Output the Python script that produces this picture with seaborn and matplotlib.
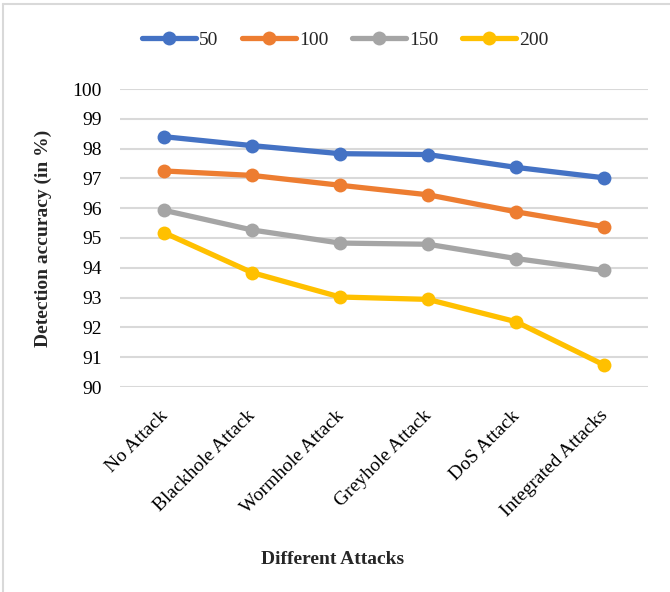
import matplotlib
matplotlib.use("Agg")
import matplotlib.pyplot as plt
import seaborn as sns
import pandas as pd
from matplotlib.lines import Line2D
from matplotlib.transforms import ScaledTranslation

# Detection accuracy (%) per attack scenario, one series per node count
attacks = ["No Attack", "Blackhole Attack", "Wormhole Attack",
           "Greyhole Attack", "DoS Attack", "Integrated Attacks"]
nodes = ["50", "100", "150", "200"]
acc_50 = [98.40, 98.10, 97.83, 97.80, 97.37, 97.02]
acc_100 = [97.25, 97.10, 96.77, 96.45, 95.88, 95.38]
acc_150 = [95.93, 95.27, 94.83, 94.79, 94.31, 93.91]
acc_200 = [95.18, 93.84, 93.02, 92.94, 92.19, 90.74]
y_ticks = [90, 91, 92, 93, 94, 95, 96, 97, 98, 99, 100]

colors = ["#4472C4", "#ED7D31", "#A5A5A5", "#FFC000"]
SERIF = ["Liberation Serif", "DejaVu Serif"]

rows = []
for name, vals in zip(nodes, [acc_50, acc_100, acc_150, acc_200]):
    for i, v in enumerate(vals):
        rows.append({"pos": i, "attack": attacks[i], "nodes": name, "acc": v})
df = pd.DataFrame(rows)

sns.set_theme(style="white")
plt.rcParams["font.family"] = SERIF

W, H = 670, 592
fig = plt.figure(figsize=(W / 100, H / 100), dpi=100)
ax = fig.add_axes([120 / W, 1 - 387 / H, (648 - 120) / W, (387 - 89) / H])

sns.lineplot(data=df, x="pos", y="acc", hue="nodes", hue_order=nodes,
             palette=colors, marker="o", markersize=10, markeredgewidth=0,
             linewidth=3.8, ax=ax, legend=False, zorder=3)

ax.set_xlim(-0.5, len(attacks) - 0.5)
ax.set_ylim(90, 100)
ax.set_yticks(y_ticks)
ax.set_yticklabels([str(t) for t in y_ticks], fontsize=14, color="#000000",
                   fontfamily=SERIF)
ax.set_xticks(range(len(attacks)))
ax.set_xticklabels(attacks, rotation=45, ha="right", va="top",
                   rotation_mode="anchor", fontsize=14, color="#000000",
                   fontfamily=SERIF)
ax.tick_params(axis="y", length=0, pad=13)
ax.tick_params(axis="x", length=0, pad=14.5)
shift = ScaledTranslation(-5 / 100, 0, fig.dpi_scale_trans)
for lab in ax.get_xticklabels():
    lab.set_transform(lab.get_transform() + shift)

ax.yaxis.grid(True, color="#D9D9D9", linewidth=1.5)
ax.xaxis.grid(False)
ax.set_axisbelow(True)
for s in ax.spines.values():
    s.set_visible(False)

ax.set_xlabel("")
ax.set_ylabel("Detection accuracy (in %)", fontsize=14, fontweight="bold",
              labelpad=15, fontfamily=SERIF)
fig.text(333 / W, 1 - 559 / H, "Different Attacks", fontsize=14,
         fontweight="bold", ha="center", va="center", fontfamily=SERIF)

handles = [Line2D([0], [0], color=c, linewidth=3.8, marker="o", markersize=10,
                  markeredgewidth=0, solid_capstyle="round") for c in colors]
fig.legend(handles, nodes, loc="center", bbox_to_anchor=(345 / W, 1 - 40 / H),
           ncol=4, frameon=False, fontsize=14, handlelength=2.8,
           handletextpad=0.15, columnspacing=1.2, prop={"family": SERIF, "size": 14})

# Chart frame (top and left edges)
fig.add_artist(Line2D([3 / W, 1], [1 - 4 / H, 1 - 4 / H],
                      transform=fig.transFigure, color="#D9D9D9", linewidth=1.5))
fig.add_artist(Line2D([3 / W, 3 / W], [0, 1 - 4 / H],
                      transform=fig.transFigure, color="#D9D9D9", linewidth=1.5))

fig.savefig("out.png", dpi=100, facecolor="white")
